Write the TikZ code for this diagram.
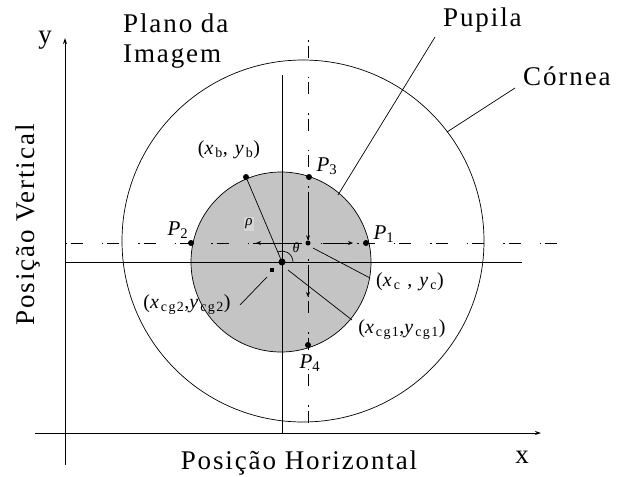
\documentclass[tikz,border=0pt]{standalone}
\usepackage{fontspec}
\setmainfont{Liberation Serif}
\newfontfamily\spc[LetterSpace=7]{Liberation Serif}
\newfontfamily\spcs[LetterSpace=10]{Liberation Serif}
\usetikzlibrary{arrows.meta}
\definecolor{pupilgray}{RGB}{196,196,196}
\definecolor{rhobg}{RGB}{214,214,214}
\begin{document}
\begin{tikzpicture}[x=1pt,y=-1pt,
  big/.style={font=\spc\fontsize{27}{29}\selectfont, inner sep=0pt},
  sml/.style={font=\spcs\fontsize{20}{22}\selectfont, inner sep=0pt},
  plab/.style={font=\itshape\fontsize{21}{23}\selectfont, inner sep=0pt},
  dot/.style={circle, fill=black, inner sep=0pt, minimum size=6pt},
  thinl/.style={line width=0.7pt},
  ddash/.style={line width=0.8pt, dash pattern=on 1.5pt off 4pt on 12pt off 19pt},
  axis/.style={line width=1pt, -{Stealth[length=6pt,width=4pt]}},
  tip/.style={-{Stealth[length=5pt,width=4pt]}}
]
\useasboundingbox (0,0) rectangle (633,477);
\fill[white] (0,0) rectangle (633,477);

% cornea and pupil
\draw[thinl] (303,241) circle (181pt);
\filldraw[fill=pupilgray, draw=black, thinl] (281,262) circle (90pt);

% axes
\coordinate (yb) at (65,465); \coordinate (yt) at (65,38);
\coordinate (xl) at (35,433); \coordinate (xr) at (541,433);
\draw[axis] (yb) -- (yt);
\draw[axis] (xl) -- (xr);

% solid cross lines
\coordinate (hl) at (65,262); \coordinate (hr) at (522,262);
\coordinate (vt) at (282,75); \coordinate (vb) at (282,433);
\draw[line width=0.9pt] (hl) -- (hr);
\draw[line width=0.9pt] (vt) -- (vb);

% dash-dot lines
\coordinate (dhl) at (65,243); \coordinate (dhr) at (575,243);
\coordinate (dvt) at (308,40); \coordinate (dvb) at (308,428);
\draw[ddash] (dhl) -- (dhr);
\draw[ddash] (dvt) -- (dvb);

% points
\node[dot] (P1) at (366,243) {};
\node[dot] (P2) at (191,243) {};
\node[dot] (P3) at (309,177) {};
\node[dot] (P4) at (308,345) {};
\node[dot] (B)  at (246,177) {};
\node[dot, minimum size=5pt] (C) at (308,243) {};
\node[dot, minimum size=7pt] (O) at (282,262) {};
\node[dot, rectangle, minimum size=4pt] (G2) at (272,270) {};

% inner arrows
\coordinate (a1) at (308,197);
\coordinate (a2s) at (308,266); \coordinate (a2e) at (308,297);
\coordinate (a3s) at (323,243); \coordinate (a3e) at (353,243);
\coordinate (a4s) at (292,243); \coordinate (a4e) at (256,243);
\draw[thinl, tip] (a1) -- (C);
\draw[thinl, tip] (a2s) -- (a2e);
\draw[thinl, tip] (a3s) -- (a3e);
\draw[thinl, tip] (a4s) -- (a4e);

% rho line and theta arc
\draw[thinl] (B) -- (O);
\draw[thinl] ([xshift=11pt]O.center) arc[start angle=0, end angle=113, radius=11pt];
\node[font=\itshape\fontsize{15}{16}\selectfont, fill=rhobg, inner sep=1.5pt] (rho) at (249,224) {ρ};
\node[font=\itshape\fontsize{14}{15}\selectfont, inner sep=0pt] (theta) at (296,248) {θ};

% point labels
\node[plab] (lP1) at (384,234) {P\textsubscript{\upshape 1}};
\node[plab] (lP2) at (178,230) {P\textsubscript{\upshape 2}};
\node[plab] (lP3) at (327,166) {P\textsubscript{\upshape 3}};
\node[plab] (lP4) at (310,363) {P\textsubscript{\upshape 4}};
\node[sml] (lB) at (229,150) {(\textit{x}\textsubscript{b}, \textit{y}\textsubscript{b})};
\node[sml] (lC) at (410,282) {(\textit{x}\textsubscript{c} , \textit{y}\textsubscript{c})};
\node[sml] (lG1) at (402,330) {(\textit{x}\textsubscript{cg1},\textit{y}\textsubscript{cg1})};
\node[sml] (lG2) at (187,305) {(\textit{x}\textsubscript{cg2},\textit{y}\textsubscript{cg2})};

% leader lines
\coordinate (lc1) at (370,278); \coordinate (lc2) at (313,248);
\coordinate (lg11) at (352,320); \coordinate (lg12) at (288,270);
\coordinate (lg21) at (240,305); \coordinate (lg22) at (267,277);
\draw[thinl] (lc1) -- (lc2);
\draw[thinl] (lg11) -- (lg12);
\draw[thinl] (lg21) -- (lg22);

% big labels
\node[big, anchor=west] (plano) at (123,23) {Plano da};
\node[big, anchor=west] (imagem) at (123,57) {Imagem};
\node[big, anchor=west] (pupila) at (443,20) {Pupila};
\node[big, anchor=west] (cornea) at (523,76) {Córnea};
\node[big] (ylab) at (45,40) {y};
\node[big] (xlab) at (522,457) {x};
\node[big] (hor) at (299,463) {Posição Horizontal};
\node[big, rotate=90] (ver) at (28,225) {Posição Vertical};

\coordinate (pl1) at (435,37); \coordinate (pl2) at (338,195);
\coordinate (cl1) at (515,88); \coordinate (cl2) at (447,132);
\draw[thinl] (pl1) -- (pl2);
\draw[thinl] (cl1) -- (cl2);
\end{tikzpicture}
\end{document}
